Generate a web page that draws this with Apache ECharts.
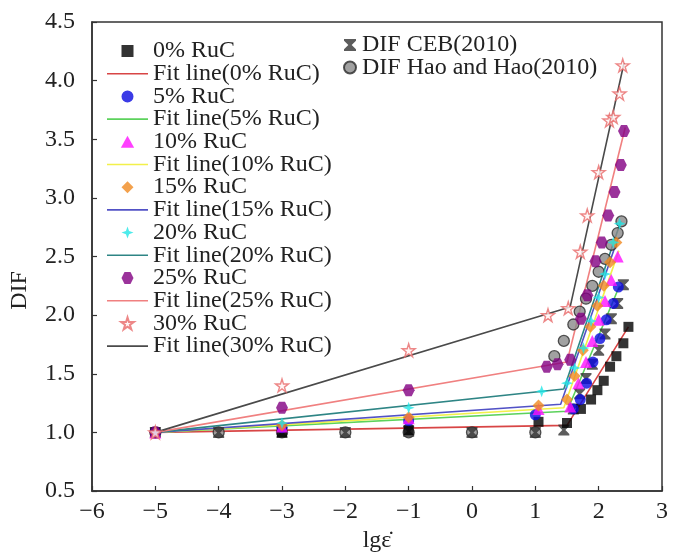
<!DOCTYPE html>
<html>
<head>
<meta charset="utf-8">
<script src="https://cdn.jsdelivr.net/npm/echarts@6/dist/echarts.min.js"></script>
<style>
  html, body { margin: 0; padding: 0; background: #fff; }
  #chart { width: 696px; height: 555px; }
</style>
</head>
<body>
<div id="chart"></div>
<script>
// Axis ticks
const xTicks = [-6, -5, -4, -3, -2, -1, 0, 1, 2, 3];
const yTicks = [0.5, 1.0, 1.5, 2.0, 2.5, 3.0, 3.5, 4.0, 4.5];

// Measured DIF versus lg(strain rate), one pair of arrays per mix
const ruc0X = [-5, -3, -1, 1.05, 1.5, 1.72, 1.88, 1.98, 2.08, 2.18, 2.28, 2.39, 2.47];
const ruc0Y = [1.0, 1.0, 1.02, 1.09, 1.08, 1.2, 1.28, 1.36, 1.44, 1.56, 1.65, 1.76, 1.9];
const ruc5X = [-5, -3, -1, 1.0, 1.6, 1.71, 1.81, 1.91, 2.02, 2.12, 2.23, 2.31];
const ruc5Y = [1.0, 1.04, 1.1, 1.15, 1.2, 1.28, 1.42, 1.6, 1.8, 1.96, 2.1, 2.24];
const ruc10X = [-5, -3, -1, 1.05, 1.55, 1.68, 1.8, 1.9, 2.0, 2.1, 2.2, 2.3];
const ruc10Y = [1.0, 1.05, 1.12, 1.2, 1.22, 1.42, 1.6, 1.78, 1.96, 2.12, 2.3, 2.5];
const ruc15X = [-5, -3, -1, 1.05, 1.5, 1.62, 1.75, 1.87, 1.98, 2.08, 2.18, 2.28];
const ruc15Y = [1.0, 1.06, 1.13, 1.23, 1.28, 1.48, 1.7, 1.9, 2.08, 2.25, 2.45, 2.62];
const ruc20X = [-5, -3, -1, 1.1, 1.5, 1.62, 1.76, 1.88, 2.0, 2.1, 2.23, 2.33];
const ruc20Y = [1.0, 1.08, 1.21, 1.35, 1.42, 1.55, 1.72, 1.95, 2.15, 2.35, 2.62, 2.78];
const ruc25X = [-5, -3, -1, 1.18, 1.35, 1.55, 1.72, 1.82, 1.95, 2.05, 2.15, 2.25, 2.35, 2.4];
const ruc25Y = [1.0, 1.21, 1.36, 1.56, 1.58, 1.62, 1.97, 2.17, 2.46, 2.62, 2.85, 3.05, 3.28, 3.57];
const ruc30X = [-5, -3, -1, 1.2, 1.52, 1.71, 1.82, 2.0, 2.17, 2.23, 2.33, 2.38];
const ruc30Y = [1.0, 1.40, 1.70, 2.0, 2.06, 2.54, 2.85, 3.22, 3.66, 3.69, 3.89, 4.13];

// Bilinear fit lines: knots (start, break point, end)
const fit0X = [-5, 1.5, 2.47],  fit0Y = [1.0, 1.06, 1.9];
const fit5X = [-5, 1.5, 2.33],  fit5Y = [1.0, 1.18, 2.25];
const fit10X = [-5, 1.45, 2.32], fit10Y = [1.0, 1.21, 2.55];
const fit15X = [-5, 1.4, 2.3],  fit15Y = [1.0, 1.24, 2.65];
const fit20X = [-5, 1.45, 2.35], fit20Y = [1.0, 1.37, 2.8];
const fit25X = [-5, 1.5, 2.42], fit25Y = [1.0, 1.6, 3.6];
const fit30X = [-5, 1.55, 2.4], fit30Y = [1.0, 2.07, 4.15];

// Code-formula curves
const cebX = [-5, -4, -3, -2, -1, 0, 1, 1.45, 1.6, 1.7, 1.8, 1.9, 2.0, 2.1, 2.2, 2.3, 2.39];
const cebY = [1.0, 1.0, 1.0, 1.0, 1.01, 1.0, 1.0, 1.02, 1.2, 1.33, 1.46, 1.58, 1.7, 1.84, 1.97, 2.1, 2.26];
const haoX = [-5, -4, -3, -2, -1, 0, 1, 1.3, 1.45, 1.6, 1.7, 1.8, 1.9, 2.0, 2.1, 2.2, 2.3, 2.36];
const haoY = [1.0, 1.0, 1.0, 1.0, 1.0, 1.0, 1.0, 1.65, 1.78, 1.92, 2.03, 2.14, 2.25, 2.37, 2.48, 2.6, 2.7, 2.8];

const FONT = 'Liberation Serif';
const INK = '#222';

// Marker outlines (path symbols keep their aspect ratio in the legend)
const SQUARE = 'path://M0,0 L100,0 L100,100 L0,100 Z';
const TRIANGLE = 'path://M50,0 L100,90 L0,90 Z';
const DIAMOND = 'path://M50,0 L100,50 L50,100 L0,50 Z';
const DOT = 'path://M50,0 A50,50 0 1 1 49.9,0 Z';
const STAR5 = 'path://M50,0 L61,35 L98,35 L68,57 L79,91 L50,70 L21,91 L32,57 L2,35 L39,35 Z';
const STAR4 = 'path://M50,0 L63,37 L100,50 L63,63 L50,100 L37,63 L0,50 L37,37 Z';
const HEX = 'path://M25,0 L75,0 L100,50 L75,100 L25,100 L0,50 Z';
const CROSSBAR = 'path://M0,0 L100,0 L100,14 L64,50 L100,86 L100,100 L0,100 L0,86 L36,50 L0,14 Z';
const BAR = 'path://M0,0 L100,0 L100,4 L0,4 Z';

const zip = (xs, ys) => xs.map((x, i) => [x, ys[i]]);

function pts(name, xs, ys, symbol, color, extra) {
  return Object.assign({
    name, type: 'scatter', data: zip(xs, ys), symbol, symbolSize: 11,
    itemStyle: { color }, z: 5
  }, extra || {});
}
function fit(name, xs, ys, color) {
  return {
    name, type: 'line', data: zip(xs, ys), symbol: 'none',
    lineStyle: { color, width: 1.6 }, itemStyle: { color }, z: 3
  };
}

const series = [
  fit('Fit line(0% RuC)', fit0X, fit0Y, '#d84545'),
  fit('Fit line(5% RuC)', fit5X, fit5Y, '#5cd25c'),
  fit('Fit line(10% RuC)', fit10X, fit10Y, '#f2f04a'),
  fit('Fit line(15% RuC)', fit15X, fit15Y, '#5252c6'),
  fit('Fit line(20% RuC)', fit20X, fit20Y, '#2e8585'),
  fit('Fit line(25% RuC)', fit25X, fit25Y, '#f08080'),
  fit('Fit line(30% RuC)', fit30X, fit30Y, '#4a4a4a'),
  pts('DIF Hao and Hao(2010)', haoX, haoY, DOT, '#777',
      { symbolSize: 11, itemStyle: { color: '#8a8a8a', borderColor: '#2a2a2a', borderWidth: 1.3 } }),
  pts('DIF CEB(2010)', cebX, cebY, CROSSBAR, '#333', { symbolSize: 11 }),
  pts('0% RuC', ruc0X, ruc0Y, SQUARE, '#000', { symbolSize: 10 }),
  pts('5% RuC', ruc5X, ruc5Y, DOT, '#0a0ae0'),
  pts('10% RuC', ruc10X, ruc10Y, TRIANGLE, '#ff10ff', { symbolSize: 12 }),
  pts('15% RuC', ruc15X, ruc15Y, DIAMOND, '#f08a20', { symbolSize: 12 }),
  pts('20% RuC', ruc20X, ruc20Y, STAR4, '#22e6e6', { symbolSize: 12 }),
  pts('25% RuC', ruc25X, ruc25Y, HEX, '#820082', { symbolSize: 12 }),
  pts('30% RuC', ruc30X, ruc30Y, STAR5, '#fff4f4',
      { symbolSize: 13, itemStyle: { color: '#fff4f4', borderColor: '#e86a6a', borderWidth: 1.4 } })
];

const legendText = { fontFamily: FONT, fontSize: 24, color: INK, lineHeight: 20 };
const mixes = ['0%', '5%', '10%', '15%', '20%', '25%', '30%'];
const leftLegend = [];
mixes.forEach(m => {
  leftLegend.push({ name: m + ' RuC' });
  leftLegend.push({ name: 'Fit line(' + m + ' RuC)', icon: BAR });
});

const option = {
  animation: false,
  backgroundColor: '#fff',
  grid: {
    left: 92, right: 34, top: 22, bottom: 64,
    containLabel: false, outerBoundsMode: 'none',
    show: true, borderColor: '#333', borderWidth: 1.5, backgroundColor: 'transparent'
  },
  xAxis: {
    type: 'value', min: xTicks[0], max: xTicks[xTicks.length - 1], interval: 1,
    name: 'lg\u03B5\u0307', nameLocation: 'middle', nameGap: 36,
    nameTextStyle: { fontFamily: FONT, fontSize: 24, color: INK },
    axisLine: { onZero: false, lineStyle: { color: '#333', width: 1.5 } },
    axisTick: { inside: true, length: 5, lineStyle: { color: '#333', width: 1.2 } },
    axisLabel: {
      fontFamily: FONT, fontSize: 24, color: INK, margin: 9,
      formatter: v => String(v).replace('-', '\u2212')
    },
    splitLine: { show: false }
  },
  yAxis: {
    type: 'value', min: yTicks[0], max: yTicks[yTicks.length - 1], interval: 0.5,
    name: 'DIF', nameLocation: 'middle', nameGap: 60,
    nameTextStyle: { fontFamily: FONT, fontSize: 24, color: INK, padding: [0, 68, 0, 0] },
    axisLine: { onZero: false, lineStyle: { color: '#333', width: 1.5 } },
    axisTick: { inside: true, length: 5, lineStyle: { color: '#333', width: 1.2 } },
    axisLabel: {
      fontFamily: FONT, fontSize: 24, color: INK, margin: 17,
      formatter: v => v.toFixed(1)
    },
    splitLine: { show: false }
  },
  legend: [
    {
      orient: 'vertical', left: 102, top: 34, itemWidth: 41, itemHeight: 12, itemGap: -1.3,
      textStyle: legendText,
      data: leftLegend
    },
    {
      orient: 'vertical', left: 338, top: 28, itemWidth: 14, itemHeight: 12, itemGap: -1.5,
      textStyle: legendText,
      data: ['DIF CEB(2010)', 'DIF Hao and Hao(2010)']
    }
  ],
  series
};

echarts.init(document.getElementById('chart'), null, { renderer: 'canvas' }).setOption(option);
</script>
</body>
</html>
